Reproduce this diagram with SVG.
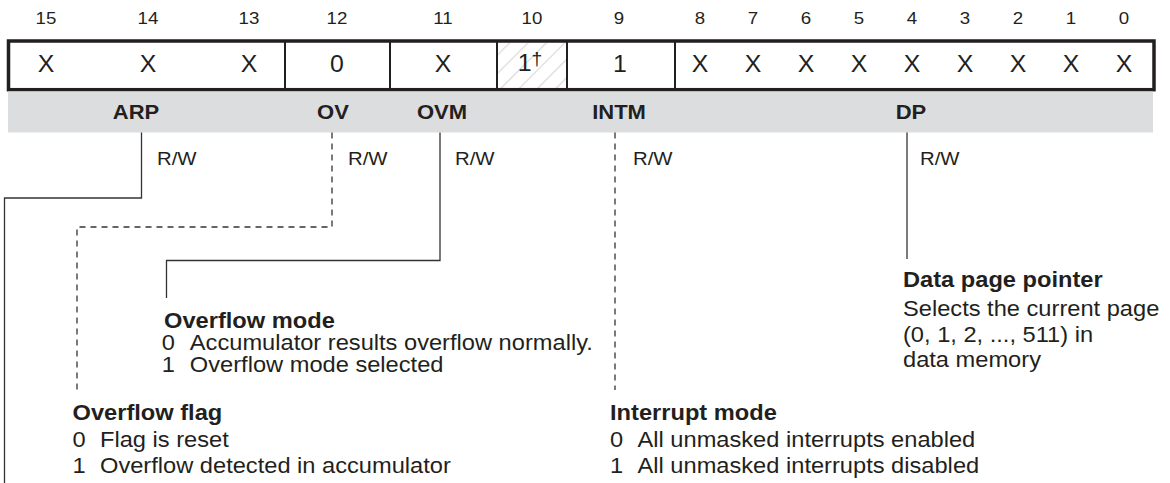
<svg xmlns="http://www.w3.org/2000/svg" width="1170" height="483" viewBox="0 0 1170 483">
<defs>
<style>
text{font-family:"Liberation Sans",Arial,Helvetica,sans-serif;fill:#231f20}
.num{font-size:17px;text-anchor:middle}
.val{font-size:23px;text-anchor:middle}
.fld{font-size:20px;font-weight:bold;text-anchor:middle}
.rw{font-size:18.5px}
.ttl{font-size:21.5px;font-weight:bold}
.body{font-size:21.5px}
.ln{fill:none;stroke:#333;stroke-width:1.3}
.dash{stroke-dasharray:6 5}
.div{stroke:#231f20;stroke-width:2}
</style>
<pattern id="hatch" patternUnits="userSpaceOnUse" width="13" height="13" patternTransform="rotate(45)">
<line x1="0" y1="0" x2="0" y2="13" stroke="#dadada" stroke-width="2.5"/>
</pattern>
</defs>
<rect width="1170" height="483" fill="#fff"/>

<g id="bit-numbers">
<text class="num" transform="translate(46,24) scale(1.1,1)">15</text>
<text class="num" transform="translate(148,24) scale(1.1,1)">14</text>
<text class="num" transform="translate(249,24) scale(1.1,1)">13</text>
<text class="num" transform="translate(337,24) scale(1.1,1)">12</text>
<text class="num" transform="translate(443,24) scale(1.1,1)">11</text>
<text class="num" transform="translate(532,24) scale(1.1,1)">10</text>
<text class="num" transform="translate(619,24) scale(1.1,1)">9</text>
<text class="num" transform="translate(700,24) scale(1.1,1)">8</text>
<text class="num" transform="translate(753,24) scale(1.1,1)">7</text>
<text class="num" transform="translate(806,24) scale(1.1,1)">6</text>
<text class="num" transform="translate(859,24) scale(1.1,1)">5</text>
<text class="num" transform="translate(912,24) scale(1.1,1)">4</text>
<text class="num" transform="translate(965,24) scale(1.1,1)">3</text>
<text class="num" transform="translate(1018,24) scale(1.1,1)">2</text>
<text class="num" transform="translate(1071,24) scale(1.1,1)">1</text>
<text class="num" transform="translate(1124,24) scale(1.1,1)">0</text>
</g>

<g id="register">
<rect x="497" y="42.5" width="70" height="46" fill="url(#hatch)"/>
<rect x="8.5" y="41" width="1145.5" height="48.7" fill="none" stroke="#231f20" stroke-width="3.5"/>
<line class="div" x1="285" y1="42" x2="285" y2="89"/>
<line class="div" x1="390" y1="42" x2="390" y2="89"/>
<line class="div" x1="497" y1="42" x2="497" y2="89"/>
<line class="div" x1="567" y1="42" x2="567" y2="89"/>
<line class="div" x1="675" y1="42" x2="675" y2="89"/>
<text class="val" transform="translate(46,72) scale(1.08,1)">X</text>
<text class="val" transform="translate(148,72) scale(1.08,1)">X</text>
<text class="val" transform="translate(249,72) scale(1.08,1)">X</text>
<text class="val" transform="translate(337,72) scale(1.08,1)">0</text>
<text class="val" transform="translate(443,72) scale(1.08,1)">X</text>
<text class="val" transform="translate(530,71) scale(1.08,1)">1<tspan font-size="18" dy="-6">†</tspan></text>
<text class="val" transform="translate(620,72) scale(1.08,1)">1</text>
<text class="val" transform="translate(700,72) scale(1.08,1)">X</text>
<text class="val" transform="translate(753,72) scale(1.08,1)">X</text>
<text class="val" transform="translate(806,72) scale(1.08,1)">X</text>
<text class="val" transform="translate(859,72) scale(1.08,1)">X</text>
<text class="val" transform="translate(912,72) scale(1.08,1)">X</text>
<text class="val" transform="translate(965,72) scale(1.08,1)">X</text>
<text class="val" transform="translate(1018,72) scale(1.08,1)">X</text>
<text class="val" transform="translate(1071,72) scale(1.08,1)">X</text>
<text class="val" transform="translate(1124,72) scale(1.08,1)">X</text>
</g>

<g id="fields">
<rect x="8" y="91.5" width="1145" height="41" fill="#dcdddf"/>
<text class="fld" transform="translate(136,119) scale(1.1,1)">ARP</text>
<text class="fld" transform="translate(333,119) scale(1.1,1)">OV</text>
<text class="fld" transform="translate(442,119) scale(1.1,1)">OVM</text>
<text class="fld" transform="translate(619,119) scale(1.1,1)">INTM</text>
<text class="fld" transform="translate(911,119) scale(1.1,1)">DP</text>
</g>

<g id="access">
<text class="rw" transform="translate(157,165) scale(1.1,1)">R/W</text>
<text class="rw" transform="translate(348,165) scale(1.1,1)">R/W</text>
<text class="rw" transform="translate(455,165) scale(1.1,1)">R/W</text>
<text class="rw" transform="translate(633,165) scale(1.1,1)">R/W</text>
<text class="rw" transform="translate(920,165) scale(1.1,1)">R/W</text>
</g>

<g id="connectors">
<path class="ln" d="M141.5,132.5 V198 H4.5 V483"/>
<path class="ln dash" d="M332,132.5 V227 H77 V390"/>
<path class="ln" d="M440,132.5 V260.5 H166.5 V298"/>
<path class="ln dash" d="M615,132.5 V390"/>
<path class="ln" d="M907,132.5 V259"/>
</g>

<g id="dp-desc" transform="translate(903,0) scale(1.1,1)">
<text class="ttl" x="0" y="287">Data page pointer</text>
<text class="body" x="0" y="316">Selects the current page</text>
<text class="body" x="0" y="342">(0, 1, 2, ..., 511) in</text>
<text class="body" x="0" y="367">data memory</text>
</g>

<g id="ovm-desc" transform="translate(164,0) scale(1.1,1)">
<text class="ttl" x="0" y="328">Overflow mode</text>
<text class="body" y="350"><tspan x="-2">0</tspan><tspan x="23.5">Accumulator results overflow normally.</tspan></text>
<text class="body" y="372"><tspan x="-2">1</tspan><tspan x="23.5">Overflow mode selected</tspan></text>
</g>

<g id="ov-desc" transform="translate(72.5,0) scale(1.1,1)">
<text class="ttl" x="0" y="420">Overflow flag</text>
<text class="body" y="447"><tspan x="0">0</tspan><tspan x="25">Flag is reset</tspan></text>
<text class="body" y="473"><tspan x="0">1</tspan><tspan x="25">Overflow detected in accumulator</tspan></text>
</g>

<g id="intm-desc" transform="translate(610,0) scale(1.1,1)">
<text class="ttl" x="0" y="420">Interrupt mode</text>
<text class="body" y="447"><tspan x="0">0</tspan><tspan x="25">All unmasked interrupts enabled</tspan></text>
<text class="body" y="473"><tspan x="0">1</tspan><tspan x="25">All unmasked interrupts disabled</tspan></text>
</g>
</svg>
